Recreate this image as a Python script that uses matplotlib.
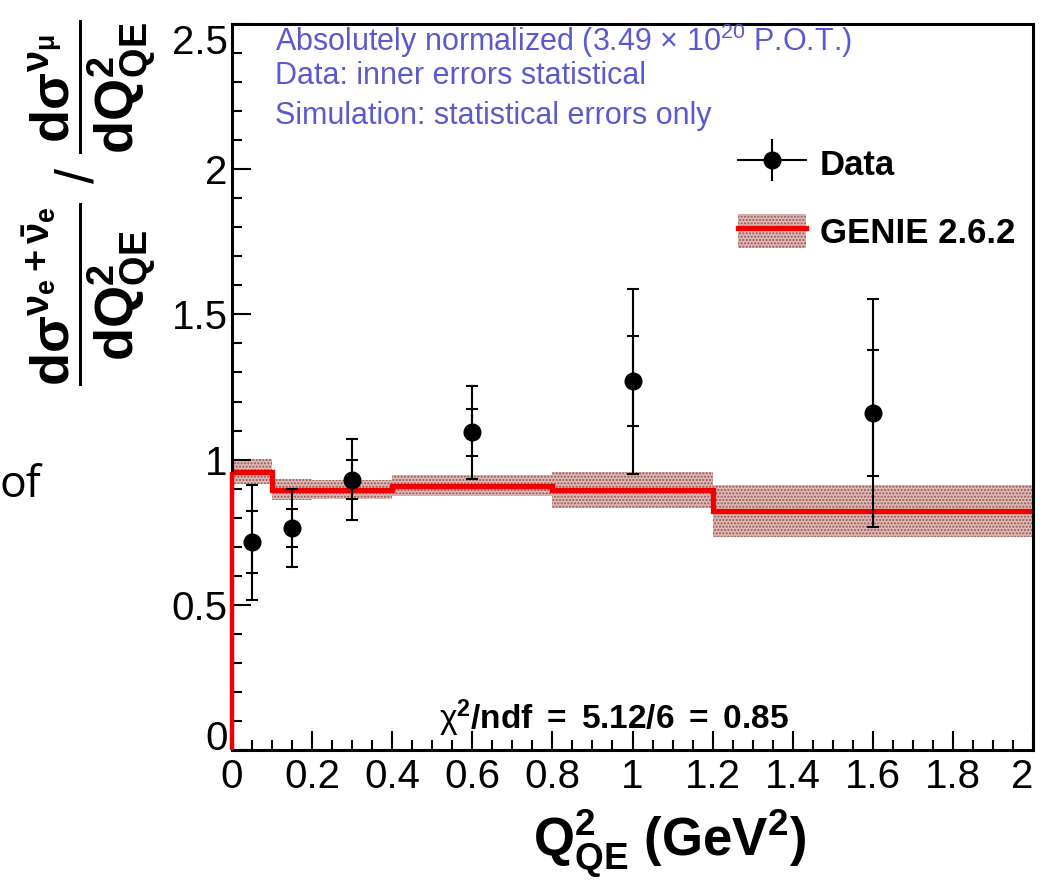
import matplotlib
matplotlib.use("Agg")
import matplotlib.pyplot as plt
import numpy as np
from matplotlib.lines import Line2D
from matplotlib.patches import Patch
from matplotlib.legend_handler import HandlerTuple
from matplotlib.ticker import MultipleLocator

plt.rcParams['font.family'] = ['Liberation Sans', 'DejaVu Sans']
plt.rcParams['mathtext.fontset'] = 'custom'
plt.rcParams['mathtext.rm'] = 'Liberation Sans'
plt.rcParams['mathtext.bf'] = 'Liberation Sans:bold'
plt.rcParams['mathtext.it'] = 'Liberation Sans:italic'
plt.rcParams['hatch.linewidth'] = 1.0

# Data points
data_x = [0.05, 0.15, 0.3, 0.6, 1.0, 1.6]
data_y = [0.715, 0.764, 0.931, 1.094, 1.27, 1.161]
data_stat = [0.107, 0.066, 0.066, 0.080, 0.154, 0.217]
data_total = [0.199, 0.134, 0.140, 0.161, 0.318, 0.392]

# GENIE 2.6.2 prediction (histogram)
bin_edges = [0.0, 0.1, 0.2, 0.4, 0.8, 1.2, 2.0]
genie = [0.959, 0.897, 0.897, 0.910, 0.897, 0.822]
genie_err = [0.044, 0.035, 0.034, 0.036, 0.062, 0.090]

xticks = [0, 0.2, 0.4, 0.6, 0.8, 1, 1.2, 1.4, 1.6, 1.8, 2]
xtick_labels = ['0', '0.2', '0.4', '0.6', '0.8', '1', '1.2', '1.4', '1.6', '1.8', '2']
yticks = [0, 0.5, 1, 1.5, 2, 2.5]
ytick_labels = ['0', '0.5', '1', '1.5', '2', '2.5']

W, H = 1040, 890
fig = plt.figure(figsize=(W / 100, H / 100), dpi=100)
ax = fig.add_axes([232 / W, 1 - 750 / H, (1033 - 232) / W, (750 - 24) / H])

band_face = '#dbbab7'
band_edge = '#9a5550'
red = '#ee0000'

lo = [g - e for g, e in zip(genie, genie_err)]
hi = [g + e for g, e in zip(genie, genie_err)]
ax.fill_between(bin_edges, lo + [lo[-1]], hi + [hi[-1]], step='post',
                facecolor=band_face, edgecolor=band_edge, hatch='.....', linewidth=0, zorder=1)
ax.stairs(genie, bin_edges, baseline=None, color=red, linewidth=3.8, zorder=2)
ax.vlines(bin_edges[0], 0, genie[0], color=red, linewidth=3.2, zorder=3, clip_on=False)

ax.errorbar(data_x, data_y, yerr=data_total, fmt='none', ecolor='black',
            elinewidth=1.5, capsize=4, capthick=1.5, zorder=3)
ax.errorbar(data_x, data_y, yerr=data_stat, fmt='none', ecolor='black',
            elinewidth=1.5, capsize=4, capthick=1.5, zorder=3)
ax.plot(data_x, data_y, 'o', color='black', markersize=12, zorder=4)

ax.set_xlim(0, 2)
ax.set_ylim(0, 2.5)
ax.set_xticks(xticks)
ax.set_xticklabels(xtick_labels)
ax.set_yticks(yticks)
ax.set_yticklabels(ytick_labels)
ax.xaxis.set_minor_locator(MultipleLocator(0.05))
ax.yaxis.set_minor_locator(MultipleLocator(0.1))
ax.tick_params(which='both', direction='in', width=1.5, labelsize=29)
ax.tick_params(which='major', length=14)
ax.tick_params(which='minor', length=7)
ax.tick_params(axis='x', pad=6)
ax.tick_params(axis='y', pad=3)
for s in ax.spines.values():
    s.set_linewidth(2.2)
yt = ax.yaxis.get_major_ticks()
yt[0].label1.set_verticalalignment('baseline')
yt[-1].label1.set_verticalalignment('top')
xt = ax.xaxis.get_major_ticks()
xt[-1].label1.set_horizontalalignment('right')

# Info text
txt_color = '#5a5ad0'
ax.text(0.107, 2.441, r'Absolutely normalized (3.49 $\times$ 10$^{20}$ P.O.T.)',
        color=txt_color, fontsize=22, va='center', ha='left')
ax.text(0.107, 2.321, 'Data: inner errors statistical',
        color=txt_color, fontsize=22, va='center', ha='left')
ax.text(0.107, 2.183, 'Simulation: statistical errors only',
        color=txt_color, fontsize=22, va='center', ha='left')

# chi2 text
ax.text(0.955, 0.11, r'$\mathrm{\chi}^{\mathbf{2}}\mathbf{/ndf\ =\ 5.12/6\ =\ 0.85}$',
        fontsize=24, ha='center', va='center')

# Legend
h_data = (Line2D([], [], color='black', lw=1.5, marker='o', markersize=12),
          Line2D([], [], color='black', ls='none', marker='|', markersize=30, markeredgewidth=1.5))
h_genie = (Patch(facecolor=band_face, edgecolor=band_edge, hatch='.....', linewidth=0),
           Line2D([], [], color=red, lw=3.8))
leg = ax.legend([h_data, h_genie], ['Data', 'GENIE 2.6.2'],
                handler_map={tuple: HandlerTuple(ndivide=1)},
                loc='upper left', bbox_to_anchor=(738 / W, 1 - 146 / H),
                bbox_transform=fig.transFigure, frameon=False, borderpad=0,
                borderaxespad=0, handlelength=1.95, handleheight=1.15,
                handletextpad=0.4, labelspacing=0.92,
                prop={'weight': 'bold', 'size': 25})

# Axis titles
fig.text(670 / W, 1 - 844 / H, r'$\mathbf{Q^{2}_{QE}\ (GeV^{2})}$', fontsize=38,
         ha='center', va='center')
fig.text(90 / W, 1 - 203 / H,
         r'$\mathbf{\dfrac{d\sigma^{\nu_{e}+\bar{\nu}_{e}}}{dQ^{2}_{QE}}}\ \mathrm{/}\ \mathbf{\dfrac{d\sigma^{\nu_{\mu}}}{dQ^{2}_{QE}}}$',
         fontsize=39, rotation=90, ha='center', va='center')

# fragment of slide text
fig.text(0, 1 - 486 / H, 'of', fontsize=32, ha='left', va='center', family='Open Sans')

fig.savefig('out.png', dpi=100)
